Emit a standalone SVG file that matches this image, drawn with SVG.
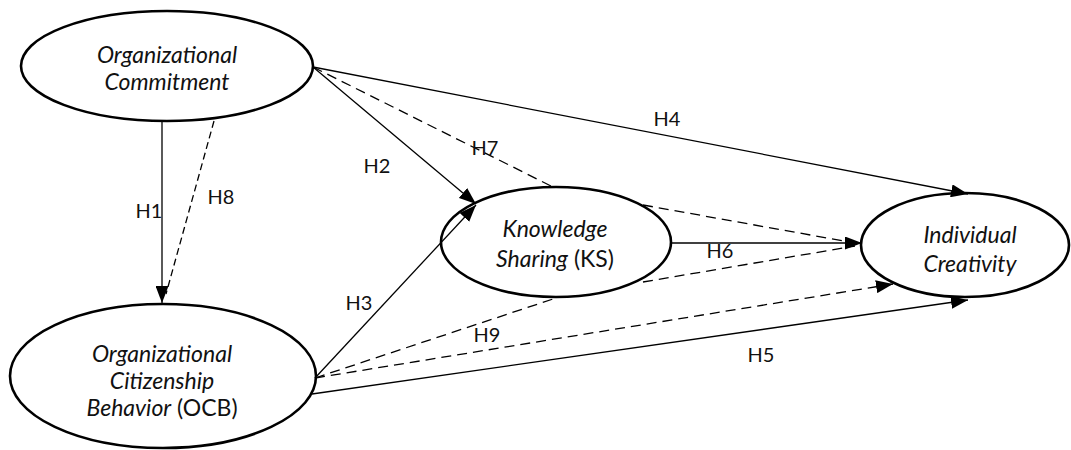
<svg xmlns="http://www.w3.org/2000/svg" width="1071" height="450" viewBox="0 0 1071 450">
<style>
.node{fill:#fff;stroke:#000;stroke-width:2.6}
.t{font-family:Lato,"Open Sans","Liberation Sans",sans-serif;font-size:23px;fill:#111;text-anchor:middle}
.i{font-style:italic}
.lbl{font-family:Lato,"Open Sans","Liberation Sans",sans-serif;font-size:20px;fill:#111;text-anchor:middle}
.ln{fill:none;stroke:#000;stroke-width:1.3}
.d1{stroke-dasharray:10 6}
.d2{stroke-dasharray:7 4}
</style>
<defs>
<marker id="ah" viewBox="0 0 17 13" refX="17" refY="6.5" markerWidth="17" markerHeight="13" markerUnits="userSpaceOnUse" orient="auto">
<path d="M0,0 L17,6.5 L0,13 z" fill="#000"/>
</marker>
<clipPath id="icclip"><rect x="860" y="190" width="211" height="87"/></clipPath>
</defs>
<rect width="1071" height="450" fill="#fff"/>
<g id="oc">
<ellipse class="node" cx="167" cy="66" rx="146" ry="55"/>
<text class="t i" x="167" y="63">Organizational</text>
<text class="t i" x="167" y="90">Commitment</text>
</g>
<g id="ocb">
<ellipse class="node" cx="163" cy="376" rx="153" ry="72"/>
<text class="t i" x="162" y="362">Organizational</text>
<text class="t i" x="162" y="389">Citizenship</text>
<text class="t" x="162" y="416"><tspan class="i">Behavior</tspan> (OCB)</text>
</g>
<g id="ks">
<ellipse class="node" cx="556" cy="242" rx="115" ry="55"/>
<text class="t i" x="555" y="237">Knowledge</text>
<text class="t" x="555" y="267"><tspan class="i">Sharing</tspan> (KS)</text>
</g>
<g id="ic">
<ellipse class="node" cx="965" cy="245" rx="104" ry="52"/>
<g clip-path="url(#icclip)">
<text class="t i" x="970" y="243">Individual</text>
<text class="t i" x="970" y="272">Creativity</text>
</g>
</g>
<g id="connectors">
<line class="ln" x1="162" y1="121" x2="162" y2="303" marker-end="url(#ah)"/>
<line class="ln d2" x1="214" y1="121" x2="166" y2="294"/>
<line class="ln" x1="313" y1="67" x2="476" y2="204" marker-end="url(#ah)"/>
<line class="ln d1" x1="313" y1="67" x2="553" y2="187"/>
<line class="ln" x1="313" y1="67" x2="968" y2="194" marker-end="url(#ah)"/>
<line class="ln d1" x1="643" y1="205" x2="855" y2="243"/>
<line class="ln" x1="671" y1="243" x2="862" y2="243" marker-end="url(#ah)"/>
<line class="ln d1" x1="643" y1="282" x2="855" y2="246"/>
<line class="ln" x1="315" y1="378" x2="476" y2="205" marker-end="url(#ah)"/>
<line class="ln d1" x1="315" y1="378" x2="553" y2="299"/>
<line class="ln d1" x1="315" y1="378" x2="893" y2="284" marker-end="url(#ah)"/>
<line class="ln" x1="312" y1="394" x2="968" y2="300" marker-end="url(#ah)"/>
<text class="lbl" x="149" y="218">H1</text>
<text class="lbl" x="221" y="204">H8</text>
<text class="lbl" x="377" y="173">H2</text>
<text class="lbl" x="485" y="155">H7</text>
<text class="lbl" x="667" y="126">H4</text>
<text class="lbl" x="359" y="310">H3</text>
<text class="lbl" x="487" y="342">H9</text>
<text class="lbl" x="720" y="258">H6</text>
<text class="lbl" x="761" y="362">H5</text>
</g>
</svg>
